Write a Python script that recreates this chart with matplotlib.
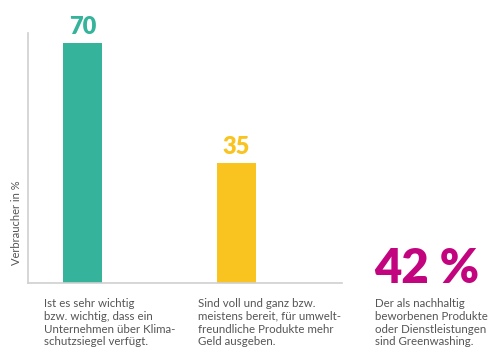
import numpy as np
import matplotlib.pyplot as plt

plt.rcParams['font.family'] = ['Lato', 'DejaVu Sans']

values = [70, 35]
colors = ["#35b39b", "#f9c41f"]
captions = [
    "Ist es sehr wichtig\nbzw. wichtig, dass ein\nUnternehmen über Klima-\nschutzsiegel verfügt.",
    "Sind voll und ganz bzw.\nmeistens bereit, für umwelt-\nfreundliche Produkte mehr\nGeld ausgeben.",
]
big_value = "42 %"
big_caption = "Der als nachhaltig\nbeworbenen Produkte\noder Dienstleistungen\nsind Greenwashing."
ylabel = "Verbraucher in %"

fig = plt.figure(figsize=(5, 3.57), dpi=100)
ax = fig.add_axes([0.056, 0.207, 0.628, 0.70])

x = np.arange(len(values))
bars = ax.bar(x, values, width=0.254, color=colors)
for b, v, c in zip(bars, values, colors):
    ax.annotate(str(v), (b.get_x() + b.get_width() / 2, v), xytext=(0, 4),
                textcoords="offset points", ha="center", va="bottom",
                fontsize=17, fontweight="heavy", color=c)

ax.set_xlim(-0.355, 1.69)
ax.set_ylim(0, 73)
ax.set_xticks([])
ax.set_yticks([])
for s in ["top", "right"]:
    ax.spines[s].set_visible(False)
for s in ["left", "bottom"]:
    ax.spines[s].set_color("#cfcfcf")
    ax.spines[s].set_linewidth(1.2)
ax.set_ylabel(ylabel, fontsize=8, color="#555555", y=0.24, labelpad=4)

gray = "#555555"
cap_x = [44 / 500, 198 / 500]
for cx, t in zip(cap_x, captions):
    fig.text(cx, 1 - 298 / 357, t, fontsize=8.3, color=gray, va="top", ha="left",
             linespacing=1.2)

fig.text(374 / 500, 1 - 283 / 357, big_value, fontsize=34, fontweight="heavy",
         color="#c2057f", va="baseline", ha="left")
fig.text(375 / 500, 1 - 298 / 357, big_caption, fontsize=8.3, color=gray,
         va="top", ha="left", linespacing=1.2)

fig.savefig("out.png", dpi=100)
